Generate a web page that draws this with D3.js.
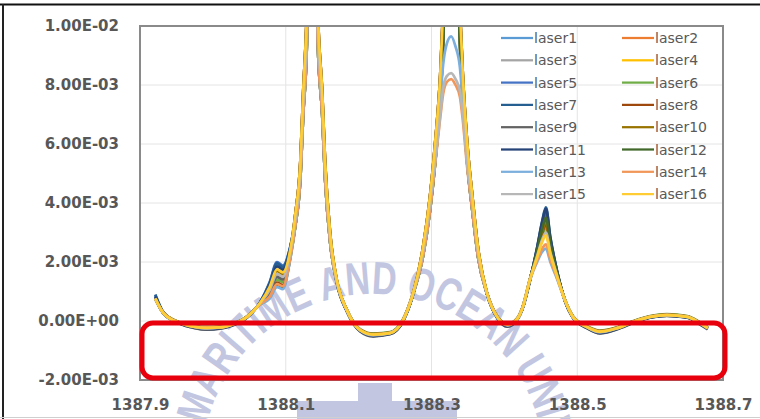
<!DOCTYPE html>
<html>
<head>
<meta charset="utf-8">
<script src="https://cdnjs.cloudflare.com/ajax/libs/d3/7.8.5/d3.min.js"></script>
<style>
  body { margin: 0; background: #fff; }
  svg { display: block; }
</style>
</head>
<body>
<script>
let w = 760;
let h = 419;

// plot area
let plotLeft = 140, plotRight = 723, plotTop = 26, plotBottom = 380;

let xTicks = [1387.9, 1388.1, 1388.3, 1388.5, 1388.7];
let yTicks = [-0.002, 0, 0.002, 0.004, 0.006, 0.008, 0.01];

let seriesNames = ["laser1", "laser2", "laser3", "laser4", "laser5", "laser6", "laser7", "laser8",
                   "laser9", "laser10", "laser11", "laser12", "laser13", "laser14", "laser15", "laser16"];
let seriesColors = ["#5B9BD5", "#ED7D31", "#A5A5A5", "#FFC000", "#4472C4", "#70AD47", "#255E91", "#9E480E",
                    "#636363", "#997300", "#264478", "#43682B", "#7CAFDD", "#F1975A", "#B7B7B7", "#FFCD33"];

let wavelength = [1387.921, 1387.932, 1387.955, 1387.975, 1387.992, 1388.010, 1388.024, 1388.047, 1388.065, 1388.078,
                  1388.088, 1388.096, 1388.106, 1388.113, 1388.120, 1388.124, 1388.129, 1388.132, 1388.137, 1388.141,
                  1388.144, 1388.150, 1388.154, 1388.161, 1388.170, 1388.184, 1388.202, 1388.220, 1388.243, 1388.261,
                  1388.275, 1388.288, 1388.298, 1388.305, 1388.312, 1388.316, 1388.321, 1388.327, 1388.333, 1388.339,
                  1388.343, 1388.349, 1388.356, 1388.364, 1388.376, 1388.390, 1388.404, 1388.417, 1388.425, 1388.435,
                  1388.445, 1388.452, 1388.457, 1388.463, 1388.472, 1388.483, 1388.494, 1388.513, 1388.531, 1388.555,
                  1388.577, 1388.600, 1388.623, 1388.651, 1388.668, 1388.679];

// intensity values, in units of 1E-03
let laser1 = [0.88, 0.27, -0.07, -0.20, -0.21, -0.22, -0.14, 0.14, 0.64, 1.25, 1.90, 1.79, 2.45, 3.40, 5.10, 7.40, 10.0, 14.0, 20.0, 14.0, 10.0, 7.40, 5.10, 2.80, 1.35, 0.35, -0.31, -0.44, -0.41, 0.03, 0.95, 2.30, 4.00, 5.70, 7.90, 10.0, 14.0, 17.0, 14.0, 10.0, 7.90, 5.70, 4.00, 2.30, 0.95, 0.14, -0.11, 0.05, 0.45, 1.39, 2.31, 2.99, 3.30, 2.52, 1.62, 0.71, 0.14, -0.20, -0.34, -0.24, -0.03, 0.14, 0.20, 0.14, -0.07, -0.24];
let laser2 = [0.76, 0.27, -0.07, -0.20, -0.24, -0.22, -0.14, 0.14, 0.61, 1.06, 1.60, 1.50, 2.30, 3.60, 5.40, 7.80, 10.6, 14.0, 20.0, 14.0, 10.6, 7.80, 5.40, 2.95, 1.40, 0.36, -0.31, -0.47, -0.41, 0.03, 0.95, 2.45, 4.25, 6.05, 8.35, 10.6, 14.0, 17.0, 14.0, 10.6, 8.35, 6.05, 4.25, 2.45, 0.95, 0.14, -0.14, 0.05, 0.45, 1.39, 2.20, 2.76, 3.00, 2.34, 1.56, 0.71, 0.14, -0.20, -0.37, -0.24, -0.03, 0.14, 0.20, 0.14, -0.07, -0.24];
let laser3 = [0.74, 0.26, -0.08, -0.21, -0.27, -0.22, -0.14, 0.13, 0.60, 0.99, 1.50, 1.41, 2.25, 3.20, 4.80, 7.00, 9.4, 14.0, 20.0, 14.0, 9.4, 7.00, 4.80, 2.65, 1.30, 0.33, -0.32, -0.50, -0.42, 0.02, 0.93, 2.15, 3.75, 5.35, 7.45, 9.4, 14.0, 17.0, 14.0, 9.4, 7.45, 5.35, 3.75, 2.15, 0.93, 0.13, -0.17, 0.04, 0.44, 1.37, 2.38, 3.14, 3.50, 2.64, 1.66, 0.70, 0.13, -0.21, -0.40, -0.25, -0.04, 0.13, 0.19, 0.13, -0.08, -0.25];
let laser4 = [0.77, 0.28, -0.06, -0.19, -0.22, -0.21, -0.13, 0.15, 0.62, 1.12, 1.70, 1.60, 2.35, 3.60, 5.40, 7.80, 10.6, 14.0, 20.0, 14.0, 10.6, 7.80, 5.40, 2.95, 1.40, 0.37, -0.30, -0.45, -0.40, 0.04, 0.96, 2.45, 4.25, 6.05, 8.35, 10.6, 14.0, 17.0, 14.0, 10.6, 8.35, 6.05, 4.25, 2.45, 0.96, 0.15, -0.12, 0.06, 0.46, 1.40, 2.24, 2.84, 3.10, 2.40, 1.58, 0.72, 0.15, -0.19, -0.35, -0.23, -0.02, 0.15, 0.21, 0.15, -0.06, -0.23];
let laser5 = [0.85, 0.29, -0.08, -0.21, -0.26, -0.23, -0.15, 0.13, 0.65, 1.32, 2.00, 1.88, 2.50, 3.40, 5.10, 7.40, 10.0, 14.0, 20.0, 14.0, 10.0, 7.40, 5.10, 2.80, 1.34, 0.34, -0.32, -0.49, -0.42, 0.02, 0.94, 2.30, 4.00, 5.70, 7.90, 10.0, 14.0, 17.0, 14.0, 10.0, 7.90, 5.70, 4.00, 2.30, 0.94, 0.13, -0.16, 0.04, 0.44, 1.38, 2.41, 3.21, 3.60, 2.70, 1.68, 0.70, 0.13, -0.21, -0.39, -0.25, -0.04, 0.13, 0.19, 0.13, -0.08, -0.25];
let laser6 = [0.75, 0.28, -0.05, -0.17, -0.20, -0.19, -0.12, 0.16, 0.59, 0.92, 1.40, 1.32, 2.20, 3.20, 4.80, 7.00, 9.4, 14.0, 20.0, 14.0, 9.4, 7.00, 4.80, 2.65, 1.32, 0.37, -0.28, -0.43, -0.38, 0.06, 0.97, 2.15, 3.75, 5.35, 7.45, 9.4, 14.0, 17.0, 14.0, 9.4, 7.45, 5.35, 3.75, 2.15, 0.97, 0.17, -0.10, 0.08, 0.48, 1.41, 2.27, 2.91, 3.20, 2.46, 1.60, 0.73, 0.17, -0.17, -0.33, -0.21, 0.00, 0.17, 0.23, 0.17, -0.04, -0.21];
let laser7 = [0.90, 0.30, -0.09, -0.23, -0.28, -0.25, -0.17, 0.12, 0.64, 1.29, 1.95, 1.83, 2.48, 3.40, 5.10, 7.40, 10.0, 14.0, 20.0, 14.0, 10.0, 7.40, 5.10, 2.80, 1.33, 0.33, -0.34, -0.51, -0.44, 0.00, 0.93, 2.30, 4.00, 5.70, 7.90, 10.0, 14.0, 17.0, 14.0, 10.0, 7.90, 5.70, 4.00, 2.30, 0.93, 0.12, -0.18, 0.03, 0.43, 1.37, 2.50, 3.40, 3.85, 2.85, 1.73, 0.69, 0.12, -0.23, -0.41, -0.27, -0.06, 0.12, 0.18, 0.12, -0.10, -0.27];
let laser8 = [0.77, 0.28, -0.06, -0.19, -0.22, -0.21, -0.13, 0.15, 0.58, 0.86, 1.30, 1.22, 2.15, 3.60, 5.40, 7.80, 10.6, 14.0, 20.0, 14.0, 10.6, 7.80, 5.40, 2.95, 1.40, 0.37, -0.30, -0.45, -0.40, 0.04, 0.96, 2.45, 4.25, 6.05, 8.35, 10.6, 14.0, 17.0, 14.0, 10.6, 8.35, 6.05, 4.25, 2.45, 0.96, 0.15, -0.12, 0.06, 0.46, 1.40, 2.31, 2.99, 3.30, 2.52, 1.62, 0.72, 0.15, -0.19, -0.35, -0.23, -0.02, 0.15, 0.21, 0.15, -0.06, -0.23];
let laser9 = [0.80, 0.26, -0.09, -0.24, -0.29, -0.26, -0.18, 0.12, 0.60, 0.99, 1.50, 1.41, 2.25, 3.20, 4.80, 7.00, 9.4, 14.0, 20.0, 14.0, 9.4, 7.00, 4.80, 2.65, 1.28, 0.31, -0.35, -0.52, -0.45, -0.01, 0.92, 2.15, 3.75, 5.35, 7.45, 9.4, 14.0, 17.0, 14.0, 9.4, 7.45, 5.35, 3.75, 2.15, 0.92, 0.11, -0.19, 0.02, 0.42, 1.36, 2.45, 3.29, 3.70, 2.76, 1.70, 0.68, 0.11, -0.24, -0.42, -0.28, -0.07, 0.11, 0.17, 0.11, -0.11, -0.28];
let laser10 = [0.78, 0.28, -0.05, -0.18, -0.21, -0.20, -0.12, 0.16, 0.62, 1.12, 1.70, 1.60, 2.35, 3.40, 5.10, 7.40, 10.0, 14.0, 20.0, 14.0, 10.0, 7.40, 5.10, 2.80, 1.37, 0.37, -0.29, -0.44, -0.39, 0.05, 0.97, 2.30, 4.00, 5.70, 7.90, 10.0, 14.0, 17.0, 14.0, 10.0, 7.90, 5.70, 4.00, 2.30, 0.97, 0.16, -0.11, 0.07, 0.47, 1.41, 2.34, 3.06, 3.40, 2.58, 1.64, 0.73, 0.16, -0.18, -0.34, -0.22, -0.01, 0.16, 0.22, 0.16, -0.05, -0.22];
let laser11 = [0.82, 0.27, -0.08, -0.22, -0.27, -0.24, -0.16, 0.13, 0.63, 1.22, 1.85, 1.74, 2.43, 3.60, 5.40, 7.80, 10.6, 14.0, 20.0, 14.0, 10.6, 7.80, 5.40, 2.95, 1.36, 0.33, -0.33, -0.50, -0.43, 0.01, 0.93, 2.45, 4.25, 6.05, 8.35, 10.6, 14.0, 17.0, 14.0, 10.6, 8.35, 6.05, 4.25, 2.45, 0.93, 0.12, -0.17, 0.03, 0.43, 1.37, 2.48, 3.36, 3.80, 2.82, 1.72, 0.69, 0.12, -0.22, -0.40, -0.26, -0.05, 0.12, 0.18, 0.12, -0.09, -0.26];
let laser12 = [0.76, 0.27, -0.07, -0.20, -0.23, -0.21, -0.14, 0.14, 0.57, 0.79, 1.20, 1.13, 2.10, 3.20, 4.80, 7.00, 9.4, 14.0, 20.0, 14.0, 9.4, 7.00, 4.80, 2.65, 1.33, 0.35, -0.31, -0.46, -0.41, 0.03, 0.95, 2.15, 3.75, 5.35, 7.45, 9.4, 14.0, 17.0, 14.0, 9.4, 7.45, 5.35, 3.75, 2.15, 0.95, 0.14, -0.13, 0.05, 0.45, 1.39, 2.38, 3.14, 3.50, 2.64, 1.66, 0.71, 0.14, -0.20, -0.36, -0.24, -0.03, 0.14, 0.20, 0.14, -0.07, -0.24];
let laser13 = [0.74, 0.27, -0.07, -0.20, -0.24, -0.22, -0.14, 0.14, 0.56, 0.76, 1.15, 1.08, 2.08, 3.20, 4.80, 7.00, 9.4, 14.0, 20.0, 14.0, 9.4, 7.00, 4.80, 2.65, 1.33, 0.35, -0.31, -0.47, -0.41, 0.03, 0.95, 2.15, 3.75, 5.50, 7.50, 8.70, 9.40, 9.65, 9.30, 8.60, 7.40, 5.40, 3.75, 2.15, 0.95, 0.14, -0.14, 0.05, 0.45, 1.39, 2.01, 2.35, 2.45, 2.01, 1.45, 0.71, 0.14, -0.20, -0.37, -0.24, -0.03, 0.14, 0.20, 0.14, -0.07, -0.24];
let laser14 = [0.75, 0.28, -0.06, -0.19, -0.22, -0.21, -0.13, 0.15, 0.57, 0.83, 1.25, 1.18, 2.13, 3.20, 4.80, 7.00, 9.4, 14.0, 20.0, 14.0, 9.4, 7.00, 4.80, 2.65, 1.34, 0.36, -0.30, -0.45, -0.40, 0.04, 0.96, 2.15, 3.75, 5.30, 6.90, 7.70, 8.10, 8.20, 8.00, 7.60, 6.80, 5.20, 3.75, 2.15, 0.96, 0.15, -0.12, 0.06, 0.46, 1.40, 2.06, 2.46, 2.60, 2.10, 1.48, 0.72, 0.15, -0.19, -0.35, -0.23, -0.02, 0.15, 0.21, 0.15, -0.06, -0.23];
let laser15 = [0.77, 0.27, -0.07, -0.20, -0.25, -0.22, -0.14, 0.14, 0.61, 1.06, 1.60, 1.50, 2.30, 3.40, 5.10, 7.40, 10.0, 14.0, 20.0, 14.0, 10.0, 7.40, 5.10, 2.80, 1.35, 0.35, -0.31, -0.48, -0.41, 0.03, 0.95, 2.30, 4.00, 5.40, 7.00, 7.90, 8.30, 8.40, 8.20, 7.80, 7.00, 5.30, 4.00, 2.30, 0.95, 0.14, -0.15, 0.05, 0.45, 1.39, 2.20, 2.76, 3.00, 2.34, 1.56, 0.71, 0.14, -0.20, -0.38, -0.24, -0.03, 0.14, 0.20, 0.14, -0.07, -0.24];
let laser16 = [0.76, 0.27, -0.07, -0.20, -0.23, -0.22, -0.14, 0.14, 0.62, 1.16, 1.75, 1.65, 2.38, 3.60, 5.40, 7.80, 10.6, 14.0, 20.0, 14.0, 10.6, 7.80, 5.40, 2.95, 1.40, 0.36, -0.31, -0.46, -0.41, 0.03, 0.95, 2.45, 4.25, 6.05, 8.35, 10.6, 14.0, 17.0, 14.0, 10.6, 8.35, 6.05, 4.25, 2.45, 0.95, 0.14, -0.13, 0.05, 0.45, 1.39, 2.17, 2.69, 2.90, 2.28, 1.54, 0.71, 0.14, -0.20, -0.36, -0.24, -0.03, 0.14, 0.20, 0.14, -0.07, -0.24];

let seriesValues = [laser1, laser2, laser3, laser4, laser5, laser6, laser7, laser8,
                    laser9, laser10, laser11, laser12, laser13, laser14, laser15, laser16];

let watermarkText = "MARITIME AND OCEAN UNIV";

const sci = (d) => {
    let [m, e] = d.toExponential(2).split("e");
    let n = Number(e);
    return m + "E" + (n < 0 ? "-" : "+") + String(Math.abs(n)).padStart(2, "0");
};

let svg = d3.select("body")
            .append("svg")
            .attr("width", w)
            .attr("height", h);

svg.append("rect")
   .attr("width", w)
   .attr("height", h)
   .attr("fill", "#fff");

let x = d3.scaleLinear([1387.9, 1388.7], [plotLeft, plotRight]);
let y = d3.scaleLinear([-0.002, 0.01], [plotBottom, plotTop]);

// gridlines
svg.append("g")
   .selectAll("line")
   .data(yTicks)
   .enter()
   .append("line")
   .attr("x1", plotLeft)
   .attr("x2", plotRight)
   .attr("y1", d => y(d))
   .attr("y2", d => y(d))
   .attr("stroke", "#e4e4e4")
   .attr("stroke-width", 1);
svg.append("g")
   .selectAll("line")
   .data(xTicks)
   .enter()
   .append("line")
   .attr("x1", d => x(d))
   .attr("x2", d => x(d))
   .attr("y1", plotTop)
   .attr("y2", plotBottom)
   .attr("stroke", "#e4e4e4")
   .attr("stroke-width", 1);

// watermark, one letter at a time along an arc (sits under the chart)
let wmColor = "#c2c6e1";
let wmFont = "bold 46px 'Liberation Sans'";
let wmCx = 373, wmCy = 465, wmR = 171, wmSx = 0.74;
let ctx = document.createElement("canvas").getContext("2d");
ctx.font = wmFont;
let chars = watermarkText.split("");
let adv = chars.map(c => ctx.measureText(c).width * wmSx);
let centers = [];
let run = 0;
adv.forEach(a => { centers.push(run + a / 2); run += a; });
// the "R" (index 2) sits at -54.8 degrees from the top of the arc
let angleAt = i => -54.8 * Math.PI / 180 + (centers[i] - centers[2]) / wmR;

let wm = svg.append("g").attr("id", "watermark");
chars.forEach((c, i) => {
    if (c === " ") return;
    let a = angleAt(i);
    let px = wmCx + wmR * Math.sin(a);
    let py = wmCy - wmR * Math.cos(a);
    wm.append("text")
      .attr("transform", `translate(${px},${py}) rotate(${a * 180 / Math.PI}) scale(${wmSx},1)`)
      .attr("text-anchor", "middle")
      .attr("font-family", "'Liberation Sans', sans-serif")
      .attr("font-weight", "bold")
      .attr("font-size", 46)
      .attr("fill", wmColor)
      .text(c);
});
wm.append("rect")
  .attr("x", 358).attr("y", 383).attr("width", 34).attr("height", 40)
  .attr("fill", wmColor);
wm.append("rect")
  .attr("x", 297).attr("y", 401).attr("width", 160).attr("height", 20)
  .attr("fill", wmColor);

// series
svg.append("clipPath")
   .attr("id", "plot-clip")
   .append("rect")
   .attr("x", plotLeft)
   .attr("y", plotTop)
   .attr("width", plotRight - plotLeft)
   .attr("height", plotBottom - plotTop);

let line = d3.line()
             .defined(d => d != null)
             .x((d, i) => x(wavelength[i]))
             .y(d => y(d / 1000))
             .curve(d3.curveMonotoneX);

svg.append("g")
   .attr("clip-path", "url(#plot-clip)")
   .selectAll("path")
   .data(seriesValues)
   .enter()
   .append("path")
   .attr("d", d => line(d))
   .attr("fill", "none")
   .attr("stroke", (d, i) => seriesColors[i])
   .attr("stroke-width", 2.75)
   .attr("stroke-linejoin", "round");

// plot border
svg.append("rect")
   .attr("x", plotLeft)
   .attr("y", plotTop)
   .attr("width", plotRight - plotLeft)
   .attr("height", plotBottom - plotTop)
   .attr("fill", "none")
   .attr("stroke", "#8a8a8a")
   .attr("stroke-width", 2);

// axes
let yAxis = d3.axisLeft(y).tickValues(yTicks).tickFormat(sci).tickSize(0).tickPadding(21);
let xAxis = d3.axisBottom(x).tickValues(xTicks).tickFormat(d3.format(".1f")).tickSize(0).tickPadding(19);

let gy = svg.append("g")
            .attr("id", "y-axis")
            .attr("transform", `translate(${plotLeft},0)`)
            .call(yAxis);
let gx = svg.append("g")
            .attr("id", "x-axis")
            .attr("transform", `translate(0,${plotBottom})`)
            .call(xAxis);
[gx, gy].forEach(g => {
    g.select(".domain").remove();
    g.attr("font-family", "'DejaVu Sans', sans-serif")
     .attr("font-size", 15)
     .attr("font-weight", "bold");
    g.selectAll("text").attr("fill", "#575757");
});

// red highlight box
svg.append("rect")
   .attr("x", 142)
   .attr("y", y(0) + 2)
   .attr("width", 583)
   .attr("height", 55)
   .attr("rx", 11)
   .attr("fill", "none")
   .attr("stroke", "#e8000c")
   .attr("stroke-width", 5);

// legend
let legend = svg.append("g").attr("id", "legend");
let colX = [501, 622];
seriesNames.forEach((name, i) => {
    let lx = colX[i % 2];
    let ly = 38 + Math.floor(i / 2) * 22.3;
    legend.append("line")
          .attr("x1", lx).attr("x2", lx + 32)
          .attr("y1", ly).attr("y2", ly)
          .attr("stroke", seriesColors[i])
          .attr("stroke-width", 2.25);
    legend.append("text")
          .attr("x", lx + 33)
          .attr("y", ly)
          .attr("dy", "0.36em")
          .attr("font-family", "'DejaVu Sans', sans-serif")
          .attr("font-size", 14)
          .attr("fill", "#595959")
          .text(name);
});

// outer frame
svg.append("line").attr("x1", 0).attr("x2", w).attr("y1", 4.5).attr("y2", 4.5)
   .attr("stroke", "#111").attr("stroke-width", 2);
svg.append("line").attr("x1", 3).attr("x2", 3).attr("y1", 4).attr("y2", h)
   .attr("stroke", "#222").attr("stroke-width", 2);
svg.append("line").attr("x1", 0).attr("x2", w).attr("y1", 417.5).attr("y2", 417.5)
   .attr("stroke", "#cfcfcf").attr("stroke-width", 1);
</script>
</body>
</html>
